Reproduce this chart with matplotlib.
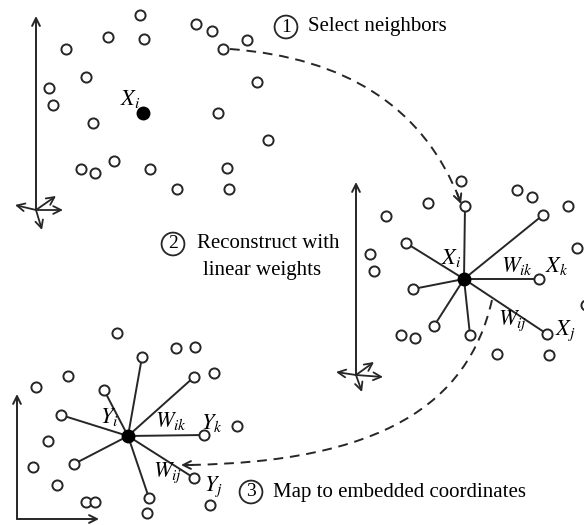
import numpy as np
import matplotlib.pyplot as plt
from matplotlib.path import Path
from matplotlib.patches import PathPatch

plt.rcParams['mathtext.fontset'] = 'stix'
plt.rcParams['font.family'] = 'Liberation Serif'

# panel 1: high dimensional points (pixel coords, y down)
p1_x = [140, 108, 144, 66, 196, 212, 247, 223, 86, 49, 53, 257, 93, 218, 268,
        114, 81, 95, 150, 227, 177, 229]
p1_y = [15, 37, 39, 49, 24, 31, 40, 49, 77, 88, 105, 82, 123, 113, 140,
        161, 169, 173, 169, 168, 189, 189]
p1_center = (143, 113)

# panel 2: neighbourhood with weights
p2_center = (464, 279)
p2_nb_x = [465, 543, 406, 539, 413, 434, 470, 547]
p2_nb_y = [206, 215, 243, 279, 289, 326, 335, 334]
p2_other_x = [461, 517, 532, 568, 428, 386, 577, 370, 374, 401, 415, 497, 549, 586]
p2_other_y = [181, 190, 197, 206, 203, 216, 248, 254, 271, 335, 338, 354, 355, 305]

# panel 3: embedded coordinates
p3_center = (128, 436)
p3_nb_x = [142, 194, 104, 61, 204, 74, 194, 149]
p3_nb_y = [357, 377, 390, 415, 435, 464, 478, 498]
p3_other_x = [117, 176, 195, 214, 68, 36, 237, 48, 33, 57, 86, 95, 147, 210]
p3_other_y = [333, 348, 347, 373, 376, 387, 426, 441, 467, 485, 502, 502, 513, 505]

fig = plt.figure(figsize=(5.84, 5.25), dpi=100)
ax = fig.add_axes([0, 0, 1, 1])
ax.set_xlim(0, 584)
ax.set_ylim(525, 0)
ax.axis('off')

lc = '#262626'
ms = 7.3
mew = 1.4
fs = 15
ms_fs = 16


def hollow(xs, ys):
    ax.plot(xs, ys, 'o', ms=ms, mfc='white', mec=lc, mew=mew, ls='none', zorder=4)


def star(center, xs, ys):
    for x, y in zip(xs, ys):
        ax.plot([center[0], x], [center[1], y], color=lc, lw=1.4, zorder=2)
    hollow(xs, ys)
    ax.plot(*center, 'o', ms=9, color='black', zorder=5)


def arrow(x0, y0, x1, y1, lw=1.4):
    ax.annotate('', xy=(x1, y1), xytext=(x0, y0),
                arrowprops=dict(arrowstyle='->', color=lc, lw=lw,
                                shrinkA=0, shrinkB=0, mutation_scale=14))


def axes_cross(ox, oy, top, tips):
    arrow(ox, oy, ox, top)
    for tx, ty in tips:
        arrow(ox, oy, tx, ty, lw=1.3)


def dashed_curve(pts, codes):
    path = Path(pts, codes)
    ax.add_patch(PathPatch(path, fc='none', ec=lc, lw=1.4, ls=(0, (5, 3.5))))


# panel 1
hollow(p1_x, p1_y)
ax.plot(*p1_center, 'o', ms=9, color='black', zorder=5)
ax.text(130, 99, '$X_i$', fontsize=ms_fs, ha='center', va='center')
axes_cross(36, 210, 16, [(15, 205), (63, 210), (56, 196), (42, 230)])

# panel 2
star(p2_center, p2_nb_x, p2_nb_y)
hollow(p2_other_x, p2_other_y)
ax.text(451, 258, '$X_i$', fontsize=ms_fs, ha='center', va='center')
ax.text(517, 266, '$W_{ik}$', fontsize=ms_fs, ha='center', va='center')
ax.text(557, 266, '$X_k$', fontsize=ms_fs, ha='center', va='center')
ax.text(513, 321, '$W_{ij}$', fontsize=ms_fs, ha='center', va='center')
ax.text(565, 331, '$X_j$', fontsize=ms_fs, ha='center', va='center')
axes_cross(356, 375, 182, [(336, 372), (383, 377), (374, 362), (362, 392)])

# panel 3
star(p3_center, p3_nb_x, p3_nb_y)
hollow(p3_other_x, p3_other_y)
ax.text(109, 417, '$Y_i$', fontsize=ms_fs, ha='center', va='center')
ax.text(171, 421, '$W_{ik}$', fontsize=ms_fs, ha='center', va='center')
ax.text(212, 423, '$Y_k$', fontsize=ms_fs, ha='center', va='center')
ax.text(168, 473, '$W_{ij}$', fontsize=ms_fs, ha='center', va='center')
ax.text(213, 487, '$Y_j$', fontsize=ms_fs, ha='center', va='center')
arrow(17, 519, 17, 394)
arrow(17, 519, 99, 519)

# dashed arrows between panels
dashed_curve([(230, 49), (405, 62), (459, 198)],
             [Path.MOVETO, Path.CURVE3, Path.CURVE3])
arrow(457, 193, 461, 204)
dashed_curve([(492, 300), (468, 405), (380, 462), (188, 465)],
             [Path.MOVETO, Path.CURVE4, Path.CURVE4, Path.CURVE4])
arrow(193, 465, 181, 465)

# step labels
circ = dict(boxstyle='circle,pad=0.15', fc='white', ec=lc, lw=1.3)
ax.text(286, 27, '1', fontsize=14, ha='center', va='center', bbox=circ)
ax.text(308, 27, 'Select neighbors', fontsize=fs, ha='left', va='center')
ax.text(173, 244, '2', fontsize=14, ha='center', va='center', bbox=circ)
ax.text(197, 244, 'Reconstruct with', fontsize=fs, ha='left', va='center')
ax.text(203, 270, 'linear weights', fontsize=fs, ha='left', va='center')
ax.text(251, 492, '3', fontsize=14, ha='center', va='center', bbox=circ)
ax.text(273, 492, 'Map to embedded coordinates', fontsize=fs, ha='left', va='center')

fig.savefig('out.png', dpi=100)
